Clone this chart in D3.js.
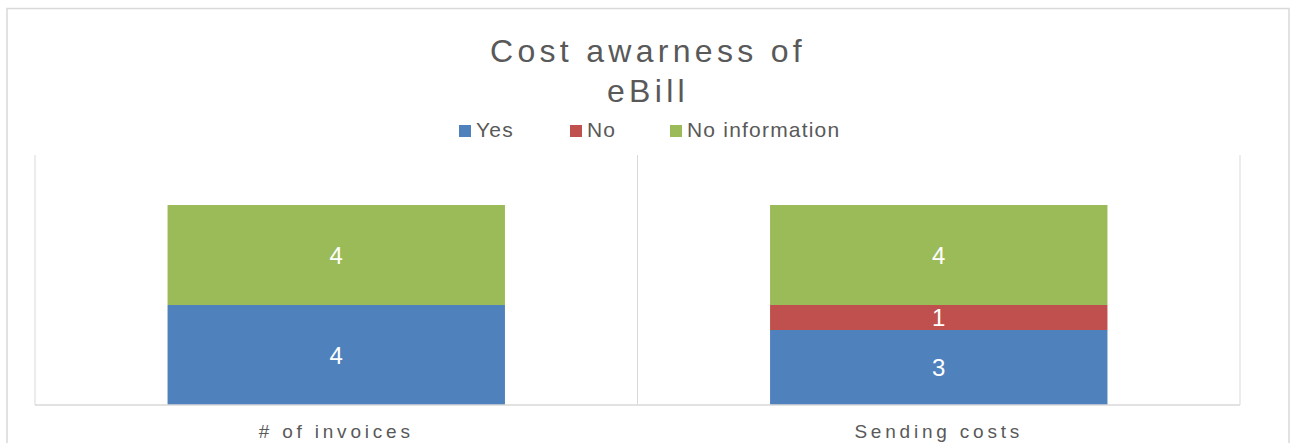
<!DOCTYPE html>
<html>
<head>
<meta charset="utf-8">
<script src="https://cdn.jsdelivr.net/npm/d3@7"></script>
<style>
  html, body { margin: 0; padding: 0; background: #fff; }
  svg { display: block; font-family: Arial, "Liberation Sans", sans-serif; }
</style>
</head>
<body>
<svg id="chart" width="1293" height="443"></svg>
<script>
// Chart data
const categories = ["# of invoices", "Sending costs"];
const seriesNames = ["Yes", "No", "No information"];
const yesValues = [4, 3];
const noValues = [0, 1];
const noInfoValues = [4, 4];
const seriesColors = ["#4f81bd", "#c0504d", "#9bbb59"];
const titleLines = ["Cost awarness of", "eBill"];

const rows = categories.map((c, i) => ({
  category: c,
  "Yes": yesValues[i],
  "No": noValues[i],
  "No information": noInfoValues[i]
}));

const svg = d3.select("#chart");
const plot = { left: 35, right: 1240, top: 155, bottom: 405 };

// Outer chart frame
svg.append("rect")
  .attr("x", 7).attr("y", 8.5)
  .attr("width", 1282).attr("height", 460)
  .attr("fill", "none")
  .attr("stroke", "#d9d9d9")
  .attr("stroke-width", 1.5);

const x = d3.scaleBand()
  .domain(categories)
  .range([plot.left, plot.right])
  .paddingInner(0.44)
  .paddingOuter(0.22);

const y = d3.scaleLinear().domain([0, 10]).range([plot.bottom, plot.top]);

// Category separators (vertical gridlines)
const bounds = [plot.left, (plot.left + plot.right) / 2, plot.right];
svg.append("g").selectAll("line")
  .data(bounds)
  .join("line")
  .attr("x1", d => d).attr("x2", d => d)
  .attr("y1", plot.top).attr("y2", plot.bottom)
  .attr("stroke", "#d9d9d9").attr("stroke-width", 1);

// Stacked bars
const stack = d3.stack().keys(seriesNames);
const stacked = stack(rows);
const color = d3.scaleOrdinal().domain(seriesNames).range(seriesColors);

const layers = svg.append("g").selectAll("g")
  .data(stacked)
  .join("g")
  .attr("fill", d => color(d.key));

layers.selectAll("rect")
  .data(d => d.filter(s => s[1] - s[0] > 0))
  .join("rect")
  .attr("x", d => x(d.data.category))
  .attr("width", x.bandwidth())
  .attr("y", d => y(d[1]))
  .attr("height", d => y(d[0]) - y(d[1]));

// Value labels
layers.selectAll("text")
  .data(d => d.filter(s => s[1] - s[0] > 0))
  .join("text")
  .attr("x", d => x(d.data.category) + x.bandwidth() / 2)
  .attr("y", d => (y(d[0]) + y(d[1])) / 2)
  .attr("dy", "0.36em")
  .attr("text-anchor", "middle")
  .attr("fill", "#ffffff")
  .attr("font-size", 24)
  .text(d => d[1] - d[0]);

// Category axis
const xAxis = svg.append("g")
  .attr("transform", `translate(0,${plot.bottom})`)
  .call(d3.axisBottom(x).tickSize(0).tickPadding(20));
xAxis.select(".domain")
  .attr("d", `M${plot.left},0H${plot.right}`)
  .attr("stroke", "#d9d9d9").attr("stroke-width", 1.5);
xAxis.selectAll("text")
  .attr("font-family", "Arial, 'Liberation Sans', sans-serif")
  .attr("font-size", 19)
  .attr("letter-spacing", "3.8px")
  .attr("fill", "#595959");

// Title
svg.append("g").selectAll("text")
  .data(titleLines)
  .join("text")
  .attr("x", 648)
  .attr("y", (d, i) => 62 + i * 40)
  .attr("text-anchor", "middle")
  .attr("font-size", 32)
  .attr("letter-spacing", "4.3px")
  .attr("fill", "#595959")
  .text(d => d);

// Legend
const legendX = [459, 570, 670];
const legend = svg.append("g").selectAll("g")
  .data(seriesNames)
  .join("g")
  .attr("transform", (d, i) => `translate(${legendX[i]},0)`);
legend.append("rect")
  .attr("x", 0).attr("y", 125)
  .attr("width", 12).attr("height", 12)
  .attr("fill", d => color(d));
legend.append("text")
  .attr("x", 17).attr("y", 137)
  .attr("font-size", 21)
  .attr("letter-spacing", "1.2px")
  .attr("fill", "#595959")
  .text(d => d);
</script>
</body>
</html>
